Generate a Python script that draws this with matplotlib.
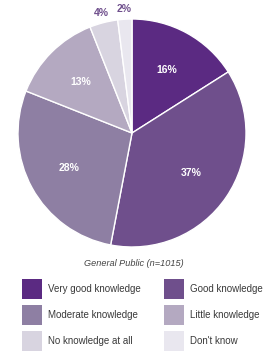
import numpy as np
import matplotlib
matplotlib.use('Agg')
import matplotlib.pyplot as plt
from matplotlib.patches import Rectangle

plt.rcParams['font.family'] = ['Liberation Sans Narrow', 'Liberation Sans', 'DejaVu Sans']

# data
categories = ['Very good knowledge', 'Good knowledge', 'Moderate knowledge',
              'Little knowledge', 'No knowledge at all', "Don't know"]
values = [16, 37, 28, 13, 4, 2]
colors = ['#5b2a82', '#6f4f8c', '#8e7fa3', '#b4a9c1', '#d8d4e0', '#e9e7ef']
caption = 'General Public (n=1015)'

fig = plt.figure(figsize=(2.7, 3.54), dpi=100)

# pie axes: centre ~ (132,133) px, radius ~114 px
ax = fig.add_axes([18 / 270, (354 - 133 - 114) / 354, 228 / 270, 228 / 354])
wedges, _ = ax.pie(values, colors=colors, startangle=90, counterclock=False,
                   wedgeprops=dict(edgecolor='white', linewidth=1.0))
ax.set_xlim(-1, 1)
ax.set_ylim(-1, 1)
ax.set_aspect('equal')
ax.axis('off')

for w, v in zip(wedges, values):
    ang = np.deg2rad((w.theta1 + w.theta2) / 2)
    if v >= 10:
        r, col = 0.63, 'white'
    else:
        r, col = 1.09, '#6f4f8c'
    ax.text(r * np.cos(ang), r * np.sin(ang), f'{v}%', ha='center', va='center',
            color=col, fontsize=7.5, fontweight='bold', family='Liberation Sans',
            clip_on=False)

fig.text(134 / 270, 1 - 264 / 354, caption, ha='center', va='center',
         fontsize=6.6, style='italic', color='#444444')

# legend, two columns
col_x = [22, 164]
row_y = [289, 315, 341]
for i, (name, c) in enumerate(zip(categories, colors)):
    x = col_x[i % 2]
    y = row_y[i // 2]
    fig.patches.append(Rectangle((x / 270, 1 - (y + 10) / 354), 20 / 270, 20 / 354,
                                 transform=fig.transFigure, facecolor=c,
                                 edgecolor='none'))
    fig.text((x + 26) / 270, 1 - y / 354, name, ha='left', va='center',
             fontsize=7, color='#3a3a3a')

fig.savefig('out.png', dpi=100)
